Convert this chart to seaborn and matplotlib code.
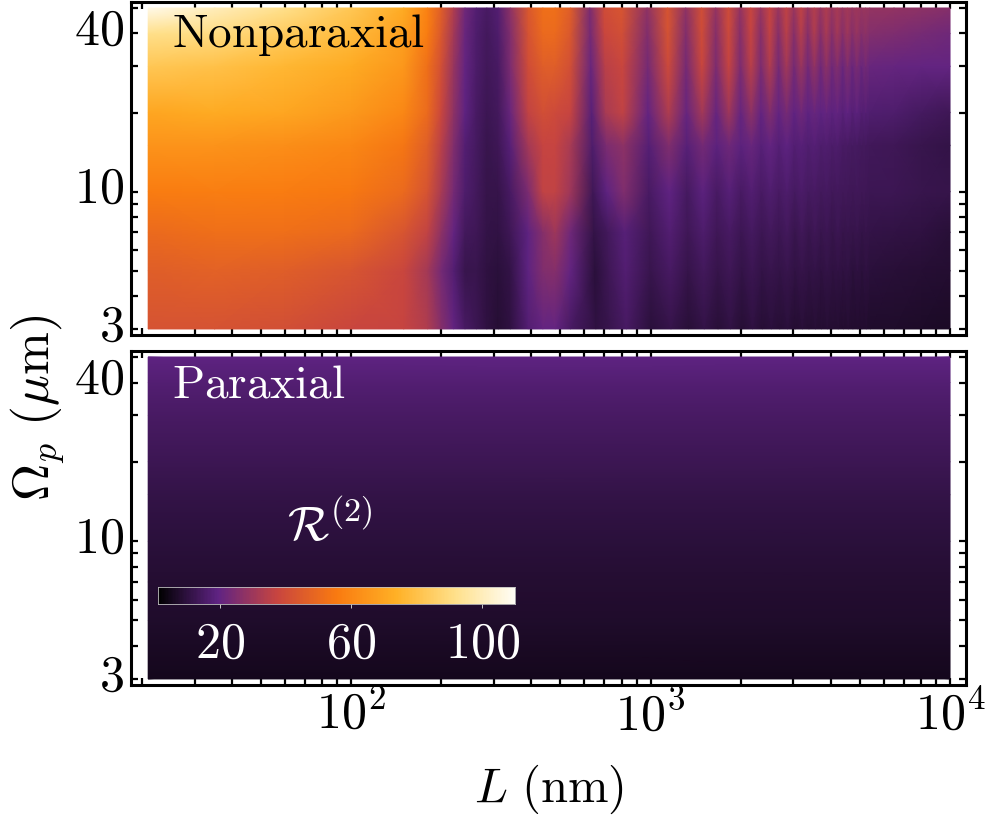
import numpy as np
import matplotlib
matplotlib.use('Agg')
import matplotlib.pyplot as plt
from matplotlib.transforms import ScaledTranslation
import seaborn as sns

# Axis nodes
L_nm = [21, 35, 60, 100, 150, 180, 200, 220, 240, 262, 284, 310, 340, 390, 437, 480, 540, 627, 700, 800, 974,
        1140, 1310, 1480, 1650, 1820, 1990, 2160, 2330, 2500, 2670, 2840, 3010, 3180, 3350, 3520, 3690, 3860,
        4030, 4200, 4370, 4540, 4710, 4880, 5050, 5220, 5390,
        6500, 8000, 10000]
omega_um = [3, 5, 7, 10, 15, 20, 30, 40, 50]
fringe_shift = [30, 25, 20, 15, 12, 8, 5, 2, 0]  # nm, fringes lean to the right going down

# Nonparaxial R^(2), one row per omega
r_om50 = [108, 100, 92, 82, 72, 58, 46, 33, 22, 17, 15, 17, 27, 44, 52, 52, 46, 24, 40, 43, 27,
          43, 27, 41, 28, 40, 28, 38, 29, 37, 29, 36, 29, 36, 29, 34, 29, 33, 29, 32, 29, 31, 29, 30, 29, 29.5, 28.5,
          28, 27, 26]
r_om40 = [92, 90, 84, 78, 68, 56, 44, 31, 21, 16, 14, 16, 25, 42, 50, 50, 44, 23, 38, 41, 25,
          42, 25, 40, 26, 39, 26, 37, 26, 36, 26, 35, 26, 34, 26, 33, 26, 32, 26, 31, 26, 30, 26, 29, 26, 27, 25.5,
          24.5, 23.5, 22]
r_om30 = [82, 80, 76, 72, 65, 52, 41, 29, 20, 15.5, 13.5, 15, 24, 40, 46, 46, 41, 21, 35, 38, 23,
          39, 23, 38, 24, 37, 24, 35, 24, 33, 23, 31, 23, 29.5, 22.5, 28, 22, 27, 22, 25.5, 21, 25, 21, 24, 21, 23, 21,
          20.5, 20, 20]
r_om20 = [70, 72, 70, 66, 60, 50, 38, 27, 19, 15, 12.5, 14, 21, 36, 41, 39, 37, 18, 32, 36, 20,
          33, 20.5, 31, 20.5, 30, 20.5, 27, 20, 25, 20, 23.5, 19.5, 22, 19, 21, 19, 20.5, 18.5, 20, 18, 19.5, 17.5, 18.5, 17, 17.5, 16.5,
          16, 14.5, 13]
r_om15 = [64, 64, 62, 60, 54, 46, 35, 25, 17, 14.5, 12, 13, 18, 31, 37, 37, 32, 16, 24, 27, 17.5,
          25, 18, 23, 18.5, 22, 18.5, 21, 18, 20, 17.5, 19, 17, 18, 16.5, 17.5, 16, 16.5, 15.5, 16, 15, 15, 14.5, 14.5, 14, 14, 13.5,
          13, 12, 11]
r_om10 = [56, 57, 56, 55, 50, 42, 32, 23, 16, 14, 11.5, 11.5, 15, 24, 36, 36, 30, 13, 19, 25, 15,
          19.5, 14.5, 18.5, 15, 18, 15, 17, 15, 16.5, 15, 16, 14.5, 15.5, 14.5, 15, 14, 14.5, 13.5, 14, 13.5, 13.5, 13, 13.5, 13, 13, 12.5,
          12.5, 12, 11.5]
r_om7 = [50, 52, 52, 50, 43, 36, 27, 20, 14, 13, 11, 10.5, 13, 19, 26, 30, 22, 11, 14, 18, 13,
         17, 13, 16, 13, 15, 12.5, 14.5, 12.5, 14, 12.5, 14, 12, 13.5, 12, 13, 12, 12.5, 11.5, 12.5, 11.5, 12, 11.5, 12, 11, 11.5, 11,
         10.5, 10, 9]
r_om5 = [46, 47, 46, 43, 38, 31, 23, 17, 12, 12, 10, 9.5, 11, 19, 25, 26, 20, 9.5, 13, 17, 12,
         15, 11.5, 14, 11.5, 13, 11, 12.5, 11, 12, 11, 12, 10.5, 11.5, 10.5, 11, 10, 11, 10, 10.5, 10, 10.5, 9.5, 10, 9.5, 10, 9.5,
         9, 8.5, 8]
r_om3 = [42, 42, 41, 38, 37, 33, 26, 20, 15, 12.5, 10, 8.5, 10, 17, 20, 20, 15, 10, 12, 15, 9.5,
         11.5, 9, 11, 9, 10.5, 8.5, 10, 8.5, 9.5, 8.5, 9.5, 8, 9, 8, 8.5, 8, 8.5, 8, 8, 7.5, 8, 7.5, 7.5, 7.5, 7.5, 7,
         7, 6.8, 6.5]

# Paraxial R^(2) has no L dependence
r_paraxial = [5, 7, 8, 9.5, 11, 12.5, 15, 17, 19]

x_major = [100, 1000, 10000]
x_minor = [20, 30, 40, 50, 60, 70, 80, 90, 200, 300, 400, 500, 600, 700, 800, 900,
           2000, 3000, 4000, 5000, 6000, 7000, 8000, 9000]
y_major = [3, 10, 40]
y_minor = [4, 5, 6, 7, 8, 9, 20, 30, 50]
cbar_ticks = [20, 60, 100]
r_min, r_max = 1, 110

W, H = 987, 816
sns.set_style('ticks')
plt.rcParams['mathtext.fontset'] = 'cm'
plt.rcParams['text.color'] = 'black'
plt.rcParams['xtick.color'] = 'black'
plt.rcParams['ytick.color'] = 'black'
sunset = sns.blend_palette(['#000000', '#5f2383', '#c8453f', '#f97a10', '#ffb025', '#ffe08a', '#fffdf5'],
                           n_colors=256, as_cmap=True)

fig = plt.figure(figsize=(W / 100, H / 100), dpi=100)


def px_rect(x0, y0, x1, y1):
    return [x0 / W, 1 - y1 / H, (x1 - x0) / W, (y1 - y0) / H]


def style_axes(ax, show_x):
    ax.set_xscale('log')
    ax.set_yscale('log')
    ax.set_xlim(18.4, 11350)
    ax.set_ylim(2.845, 52.7)
    ax.set_xticks(x_major)
    ax.set_xticks(x_minor, minor=True)
    ax.set_yticks(y_major)
    ax.set_yticks(y_minor, minor=True)
    ax.set_yticklabels([f'${v}$' for v in y_major])
    ax.set_xticklabels(['$10^{%d}$' % np.log10(v) for v in x_major] if show_x else [])
    ax.xaxis.set_minor_formatter(matplotlib.ticker.NullFormatter())
    ax.yaxis.set_minor_formatter(matplotlib.ticker.NullFormatter())
    ax.tick_params(which='both', direction='in', top=True, right=True, length=5.2, width=1.6, color='black')
    ax.tick_params(axis='x', which='major', labelsize=36, pad=4)
    ax.tick_params(axis='y', which='major', labelsize=36, pad=5)
    # the y labels sit a little above their ticks in the original
    for lab in ax.get_yticklabels():
        lab.set_transform(lab.get_transform() + ScaledTranslation(0, 7.5 / 100, fig.dpi_scale_trans))
    for s in ax.spines.values():
        s.set_linewidth(2.2)
        s.set_color('black')
    ax.patch.set_facecolor('white')


# top panel
ax_top = fig.add_axes(px_rect(131, 2, 966.5, 335))
R = np.array([r_om3, r_om5, r_om7, r_om10, r_om15, r_om20, r_om30, r_om40, r_om50])
X = np.tile(np.array(L_nm, dtype=float), (len(omega_um), 1))
X[:, 17:] += np.array(fringe_shift)[:, None]
X = np.minimum(X, 10000)
Y = np.tile(np.array(omega_um, dtype=float)[:, None], (1, len(L_nm)))
ax_top.pcolormesh(X, Y, R, cmap=sunset, vmin=r_min, vmax=r_max, shading='gouraud')
style_axes(ax_top, False)

# bottom panel
ax_bot = fig.add_axes(px_rect(131, 351, 966.5, 685))
R2 = np.array([r_paraxial, r_paraxial]).T
ax_bot.pcolormesh([21, 10000], omega_um, R2, cmap=sunset, vmin=r_min, vmax=r_max, shading='gouraud')
style_axes(ax_bot, True)

# colour bar sits inside the bottom panel
ax_cb = fig.add_axes(px_rect(158, 587, 515, 604))
ramp = np.linspace(r_min, r_max, 256)[None, :]
sns.heatmap(ramp, ax=ax_cb, cmap=sunset, vmin=r_min, vmax=r_max, cbar=False, xticklabels=False, yticklabels=False)
ax_cb.set_xticks([(v - r_min) / (r_max - r_min) * 256 for v in cbar_ticks])
ax_cb.set_xticklabels([f'${v}$' for v in cbar_ticks])
ax_cb.set_yticks([])
ax_cb.tick_params(axis='x', bottom=True, direction='out', length=3, width=0.7, color='#c8c8c8',
                  labelcolor='white', labelsize=36, pad=8)
for s in ax_cb.spines.values():
    s.set_visible(True)
    s.set_linewidth(0.6)
    s.set_color('#c0c0c0')


def px_text(x, y, s, **kw):
    fig.text(x / W, 1 - y / H, s, **kw)


px_text(172, 47, r'$\mathrm{Nonparaxial}$', color='black', fontsize=34, va='baseline')
px_text(172, 397, r'$\mathrm{Paraxial}$', color='white', fontsize=34, va='baseline')
px_text(287, 541, r'$\mathcal{R}^{(2)}$', color='white', fontsize=35, va='baseline')
px_text(549, 789, r'$L\ (\mathrm{nm})$', color='black', fontsize=35, ha='center', va='center')
px_text(38, 408, r'$\Omega_p\ (\mu\mathrm{m})$', color='black', fontsize=37, ha='center', va='center', rotation=90)

fig.savefig('out.png', dpi=100)
